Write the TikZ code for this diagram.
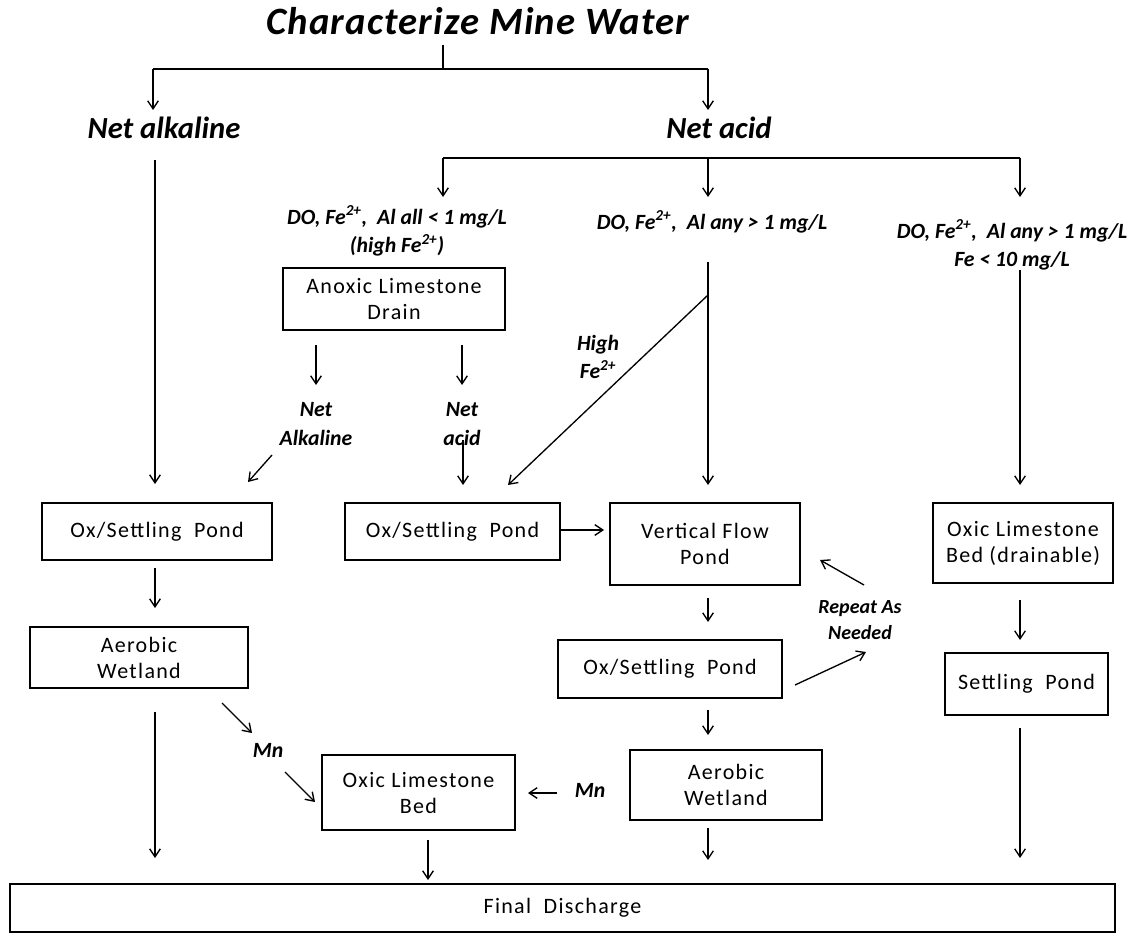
\documentclass[tikz,border=0pt]{standalone}
\usepackage{fontspec}
\setmainfont{Carlito}
\usetikzlibrary{arrows.meta,calc}
\begin{document}
\begin{tikzpicture}[x=0.75pt,y=-0.75pt,
 box/.style={draw,line width=1.5pt,align=center,inner sep=0pt,font=\fontsize{16.5}{19.5}\selectfont\addfontfeature{LetterSpace=6}},
 lbl/.style={align=center,inner sep=1pt,font=\bfseries\itshape\fontsize{16.3}{21.5}\selectfont},
 big/.style={inner sep=1pt,font=\bfseries\itshape\fontsize{23}{26}\selectfont},
 arr/.style={-{Straight Barb[length=6pt,width=8pt,line width=1pt]},line width=1pt},
 ln/.style={line width=1pt},
 bar/.style={line width=2.2pt}]
\useasboundingbox (0,0) rectangle (1137,934);
% title and first split
\node[inner sep=1pt,font=\bfseries\itshape\fontsize{29}{30}\selectfont\addfontfeature{LetterSpace=3}] (title) at (478,21) {Characterize Mine Water};
\coordinate (t0) at (443,45);
\coordinate (t1) at (443,69);
\coordinate (bL) at (153,69);
\coordinate (bR) at (708,69);
\node[big] (alk) at (164,128) {Net alkaline};
\node[big] (acid) at (719,128) {Net acid};
\draw[bar] (t0) -- (t1);
\draw[bar] (bL) -- (bR);
\coordinate (aL) at (153,110);
\coordinate (aR) at (708,110);
\draw[arr] (bL) -- (aL);
\draw[arr] (bR) -- (aR);
% net acid split
\coordinate (cL) at (443,158);
\coordinate (cM) at (708,158);
\coordinate (cR) at (1020,158);
\draw[bar] (cL) -- (cR);
\coordinate (dL) at (443,197);
\coordinate (dM) at (708,197);
\coordinate (dR) at (1020,197);
\draw[arr] (cL) -- (dL);
\draw[arr] (cM) -- (dM);
\draw[arr] (cR) -- (dR);
% conditions
\node[lbl] (c1) at (397,231) {DO, Fe\textsuperscript{2+}, \ Al all < 1 mg/L\\(high Fe\textsuperscript{2+})};
\node[lbl] (c2) at (712,222) {DO, Fe\textsuperscript{2+}, \ Al any > 1 mg/L};
\node[lbl] (c3) at (1012,245) {DO, Fe\textsuperscript{2+}, \ Al any > 1 mg/L\\Fe < 10 mg/L};
% boxes
\node[box,minimum width=166.5pt,minimum height=46.5pt] (ald) at (394,299) {Anoxic Limestone\\Drain};
\node[box,minimum width=172.5pt,minimum height=42.75pt] (ox1) at (157,531.5) {Ox/Settling \ Pond};
\node[box,minimum width=161.25pt,minimum height=42.75pt] (ox2) at (452.5,531.5) {Ox/Settling \ Pond};
\node[box,minimum width=142.5pt,minimum height=61.5pt] (vfp) at (705,544) {Vertical Flow\\Pond};
\node[box,minimum width=135pt,minimum height=60pt] (olbd) at (1023,543) {Oxic Limestone\\Bed (drainable)};
\node[box,minimum width=163.5pt,minimum height=45.75pt] (aw1) at (139,657.5) {Aerobic\\Wetland};
\node[box,minimum width=168pt,minimum height=43.5pt] (ox3) at (670,669) {Ox/Settling \ Pond};
\node[box,minimum width=122.25pt,minimum height=46.5pt] (sp) at (1026.5,684) {Settling \ Pond};
\node[box,minimum width=144.75pt,minimum height=56.25pt] (olb) at (418.5,792.5) {Oxic Limestone\\Bed};
\node[box,minimum width=144pt,minimum height=52.5pt] (aw2) at (726,785) {Aerobic\\Wetland};
\node[box,minimum width=828.75pt,minimum height=36pt] (fd) at (562.5,908) {Final \ Discharge};
% labels
\node[lbl] (na) at (316,424) {Net\\Alkaline};
\node[lbl] (nac) at (462,424) {Net\\acid};
\node[lbl] (hf) at (598,357) {High\\Fe\textsuperscript{2+}};
\node[lbl,font=\bfseries\itshape\fontsize{15}{20}\selectfont] (rep) at (860,620) {Repeat As\\Needed};
\node[lbl] (mn1) at (268,750) {Mn};
\node[lbl] (mn2) at (590,790) {Mn};
% left column
\coordinate (l0) at (155,160);
\coordinate (l0e) at (155,484);
\draw[arr] (l0) -- (l0e);
\coordinate (l1) at (155,568);
\coordinate (l1e) at (155,608);
\draw[arr] (l1) -- (l1e);
\coordinate (l2) at (155,712);
\coordinate (l2e) at (155,858);
\draw[arr] (l2) -- (l2e);
% ALD outputs
\coordinate (a1) at (316,345); \coordinate (a1e) at (316,385);
\draw[arr] (a1) -- (a1e);
\coordinate (a2) at (462,345); \coordinate (a2e) at (462,385);
\draw[arr] (a2) -- (a2e);
\coordinate (a3) at (272,455); \coordinate (a3e) at (248,482);
\draw[arr] (a3) -- (a3e);
\coordinate (a4) at (463,440); \coordinate (a4e) at (463,485);
\draw[arr] (a4) -- (a4e);
% middle
\coordinate (m0) at (708,262);
\coordinate (m1) at (708,295);
\coordinate (m2) at (708,485);
\coordinate (m3) at (508,485);
\draw[arr] (m0) -- (m2);
\draw[arr] (m1) -- (m3);
\coordinate (o2a) at (561,530); \coordinate (o2b) at (604,530);
\draw[arr] (o2a) -- (o2b);
% right
\coordinate (r0) at (1020,270); \coordinate (r1) at (1020,485);
\draw[arr] (r0) -- (r1);
\coordinate (r2) at (1020,600); \coordinate (r2e) at (1020,640);
\draw[arr] (r2) -- (r2e);
\coordinate (r3) at (1020,728); \coordinate (r3e) at (1020,858);
\draw[arr] (r3) -- (r3e);
% middle column lower
\coordinate (v1) at (708,598); \coordinate (v1e) at (708,622);
\draw[arr] (v1) -- (v1e);
\coordinate (v2) at (708,710); \coordinate (v2e) at (708,735);
\draw[arr] (v2) -- (v2e);
\coordinate (v3) at (708,828); \coordinate (v3e) at (708,860);
\draw[arr] (v3) -- (v3e);
% repeat
\coordinate (p1) at (795,685); \coordinate (p1e) at (866,652);
\draw[arr] (p1) -- (p1e);
\coordinate (p2) at (864,585); \coordinate (p2e) at (820,560);
\draw[arr] (p2) -- (p2e);
% Mn
\coordinate (n1) at (222,703); \coordinate (n1e) at (252,733);
\draw[arr] (n1) -- (n1e);
\coordinate (n2) at (285,772); \coordinate (n2e) at (315,802);
\draw[arr] (n2) -- (n2e);
\coordinate (n3) at (557,793); \coordinate (n3e) at (528,793);
\draw[arr] (n3) -- (n3e);
\coordinate (n4) at (428,840); \coordinate (n4e) at (428,880);
\draw[arr] (n4) -- (n4e);
\end{tikzpicture}
\end{document}
